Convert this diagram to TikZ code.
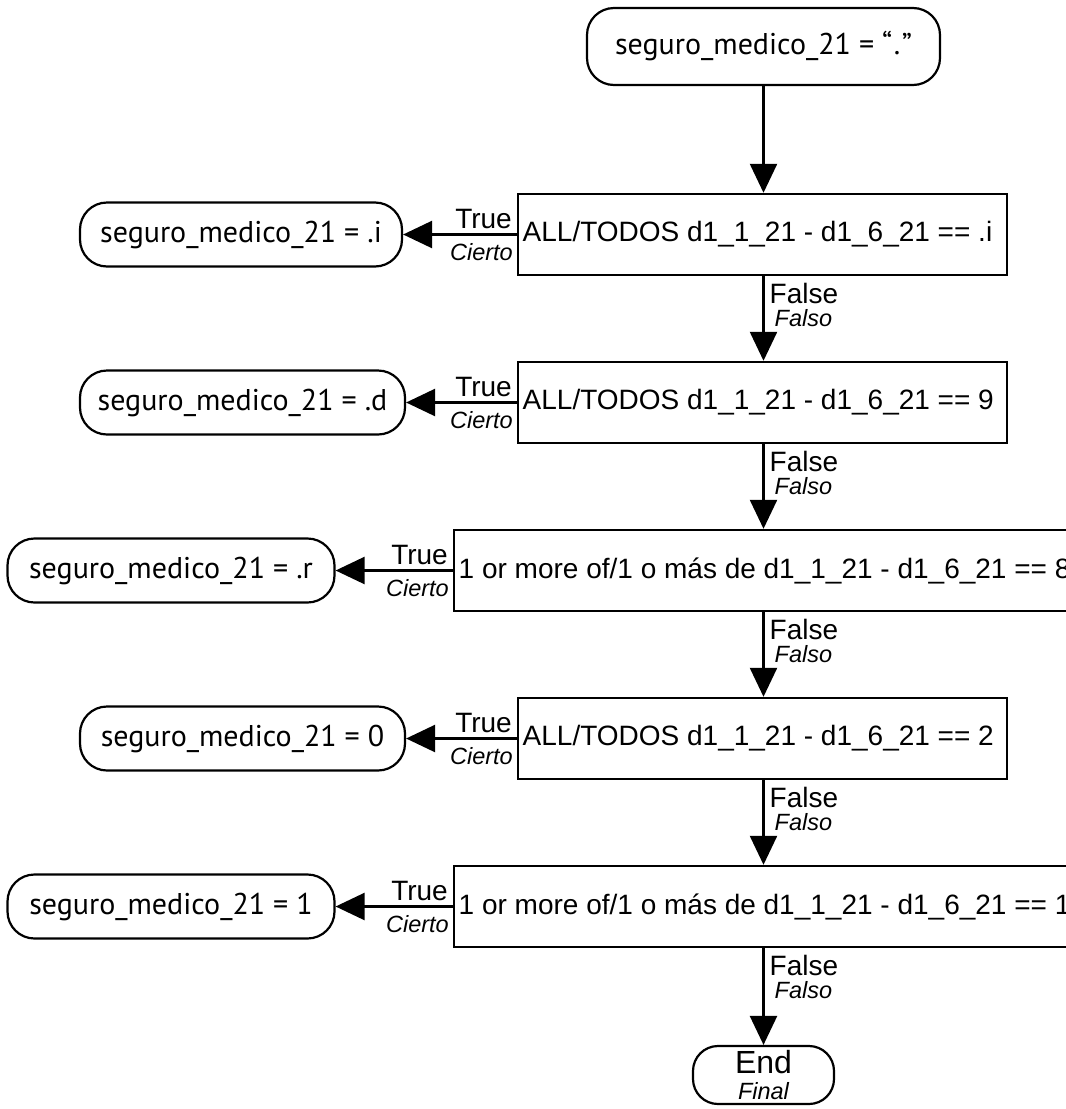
\documentclass[tikz,border=0pt]{standalone}
\usepackage{fontspec}
\setmainfont{Liberation Sans}
\newfontfamily\termfont{PT Sans}
\usetikzlibrary{arrows.meta}
\begin{document}
\begin{tikzpicture}[x=1pt,y=-1pt,
  term/.style={draw, line width=2.2pt, rounded corners=27pt, minimum height=64pt, inner sep=0pt,
    font=\termfont\fontsize{30}{32}\selectfont},
  decbox/.style={draw, line width=2.4pt, minimum height=81pt, inner sep=0pt, anchor=west,
    font=\fontsize{28}{30}\selectfont},
  arr/.style={line width=2.4pt, -{Triangle[length=29pt,width=27pt]}},
  tlab/.style={font=\fontsize{28}{29}\selectfont, inner sep=0pt},
  clab/.style={font=\itshape\fontsize{23.5}{25}\selectfont, inner sep=0pt}
]
\clip (0,0) rectangle (1066,1109);
\fill[white] (0,0) rectangle (1066,1109);

% start / end
\node[term, minimum width=353pt, minimum height=77pt] (top) at (763.5,46.5) {seguro\_medico\_21 = “\kern1.5pt.\kern1.5pt”};
\node[term, minimum width=141pt, minimum height=58pt, rounded corners=25pt,
  font=\fontsize{32}{32}\selectfont, align=center] (fin) at (763.5,1075)
  {End\\[-6pt]{\itshape\fontsize{23.5}{23.5}\selectfont Final}};

% decision boxes
\node[decbox, minimum width=489pt] (b1) at (517,234.5) {\makebox[486pt][l]{\hspace*{3pt}ALL/TODOS d1\_1\_21 - d1\_6\_21 == .i}};
\node[decbox, minimum width=489pt] (b2) at (517,402.5) {\makebox[486pt][l]{\hspace*{3pt}ALL/TODOS d1\_1\_21 - d1\_6\_21 == 9}};
\node[decbox, minimum width=660pt] (b3) at (453,570.5) {\makebox[657pt][l]{\hspace*{3pt}1 or more of/1 o más de d1\_1\_21 - d1\_6\_21 == 8}};
\node[decbox, minimum width=489pt] (b4) at (517,738.5) {\makebox[486pt][l]{\hspace*{3pt}ALL/TODOS d1\_1\_21 - d1\_6\_21 == 2}};
\node[decbox, minimum width=660pt] (b5) at (453,906.5) {\makebox[657pt][l]{\hspace*{3pt}1 or more of/1 o más de d1\_1\_21 - d1\_6\_21 == 1}};

% outcome terminals
\node[term, minimum width=322pt] (t1) at (241,234.5) {seguro\_medico\_21 = .i};
\node[term, minimum width=325pt] (t2) at (242.5,402.5) {seguro\_medico\_21 = .d};
\node[term, minimum width=327pt] (t3) at (171,570.5) {seguro\_medico\_21 = .r};
\node[term, minimum width=325pt] (t4) at (242.5,738.5) {seguro\_medico\_21 = 0};
\node[term, minimum width=327pt] (t5) at (171,906.5) {seguro\_medico\_21 = 1};

% vertical flow
\draw[arr] (top.south) -- (top.south |- b1.north);
\foreach \a/\b in {b1/b2, b2/b3, b3/b4, b4/b5, b5/fin}{
  \draw[arr] (\a.south -| top) -- (\b.north -| top);
  \path (\a.south -| top) ++(6,7) node[tlab, anchor=north west] (fl\a) {False};
  \path (fl\a.south west) ++(5,5) node[clab, anchor=north west] (fs\a) {Falso};
}

% true branches
\foreach \a/\b in {b1/t1, b2/t2, b3/t3, b4/t4, b5/t5}{
  \draw[arr] (\a.west) -- (\b.east);
  \path (\a.west) ++(-5,-6) node[tlab, anchor=south east] (tr\a) {True};
  \path (\a.west) ++(-4,9) node[clab, anchor=north east] (ci\a) {Cierto};
}
\end{tikzpicture}
\end{document}
